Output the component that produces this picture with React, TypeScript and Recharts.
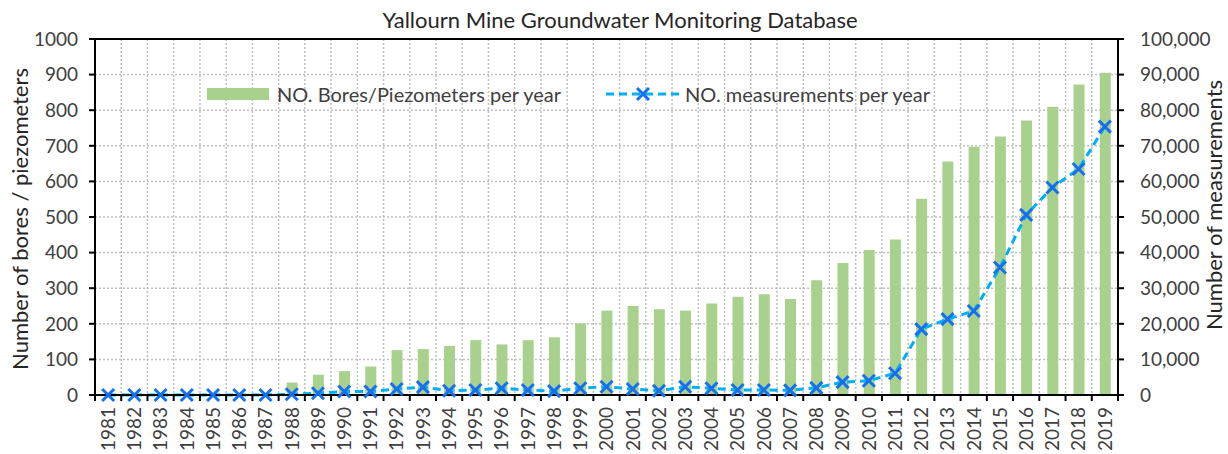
import { Bar, CartesianGrid, ComposedChart, Legend, Line, ReferenceLine, XAxis, YAxis } from "recharts";

const years = [
  "1981", "1982", "1983", "1984", "1985", "1986", "1987", "1988", "1989", "1990",
  "1991", "1992", "1993", "1994", "1995", "1996", "1997", "1998", "1999", "2000",
  "2001", "2002", "2003", "2004", "2005", "2006", "2007", "2008", "2009", "2010",
  "2011", "2012", "2013", "2014", "2015", "2016", "2017", "2018", "2019"
];

const bores = [
  0, 0, 0, 0, 0, 0, 0, 35, 57, 67,
  80, 126, 129, 138, 154, 142, 154, 162, 201, 237,
  250, 241, 237, 257, 276, 283, 270, 322, 371, 407,
  437, 551, 656, 697, 726, 771, 810, 872, 905
];

const measurements = [
  0, 0, 0, 0, 0, 0, 0, 200, 500, 1000,
  1000, 1700, 2200, 1200, 1400, 1900, 1400, 1100, 1900, 2300,
  1700, 1200, 2300, 1900, 1400, 1400, 1300, 2000, 3600, 4000,
  6100, 18500, 21300, 23600, 35800, 50600, 58300, 63500, 75400
];

const leftTicks = [0, 100, 200, 300, 400, 500, 600, 700, 800, 900, 1000];
const rightTicks = [0, 10000, 20000, 30000, 40000, 50000, 60000, 70000, 80000, 90000, 100000];

const data = years.map((year, i) => ({ year, bores: bores[i], measurements: measurements[i] }));

const FONT = "Lato, 'DejaVu Sans', sans-serif";
const TEXT = "#404040";
const BAR = "#a9d18e";
const LINE = "#00b0f0";
const MARK = "#1570f0";
const PLOT_W = 1228 - 95 - 110;

function YearTick(props: any) {
  const { x, y, payload, index } = props;
  const band = PLOT_W / years.length;
  const last = index === years.length - 1;
  return (
    <g>
      <line x1={x - band / 2} x2={x - band / 2} y1={y} y2={y + 6} stroke="#000" strokeWidth={2} />
      {last && <line x1={x + band / 2} x2={x + band / 2} y1={y} y2={y + 6} stroke="#000" strokeWidth={2} />}
      <text
        x={x}
        y={y + 12}
        dy="0.36em"
        textAnchor="end"
        transform={`rotate(-90, ${x}, ${y + 12})`}
        fill={TEXT}
        fontSize={19}
        fontFamily={FONT}
      >
        {payload.value}
      </text>
    </g>
  );
}

function CrossDot(props: any) {
  const { cx, cy } = props;
  if (cx == null || cy == null) return null;
  const r = 6;
  return (
    <g>
      <line x1={cx - r} y1={cy - r} x2={cx + r} y2={cy + r} stroke={MARK} strokeWidth={3} />
      <line x1={cx - r} y1={cy + r} x2={cx + r} y2={cy - r} stroke={MARK} strokeWidth={3} />
    </g>
  );
}

function LegendContent() {
  return (
    <div style={{ display: "flex", alignItems: "center", fontFamily: FONT, fontSize: 20, color: TEXT }}>
      <svg width={62} height={12} style={{ marginRight: 8 }}>
        <rect x={0} y={0} width={62} height={12} fill={BAR} />
      </svg>
      <span>NO. Bores/Piezometers per year</span>
      <svg width={74} height={16} style={{ marginLeft: 45, marginRight: 5 }}>
        <line x1={0} y1={8} x2={74} y2={8} stroke={LINE} strokeWidth={3} strokeDasharray="8 5" />
        <line x1={31} y1={2} x2={43} y2={14} stroke={MARK} strokeWidth={3} />
        <line x1={31} y1={14} x2={43} y2={2} stroke={MARK} strokeWidth={3} />
      </svg>
      <span>NO. measurements per year</span>
    </div>
  );
}

const axisTitle = {
  position: "absolute" as const,
  transform: "translate(-50%, -50%) rotate(-90deg)",
  whiteSpace: "nowrap" as const,
  fontFamily: FONT,
  fontSize: 22,
  lineHeight: "22px",
  color: "#262626"
};

export default function App() {
  return (
    <div style={{ position: "fixed", left: 0, top: 0, width: 1228, height: 454, background: "#fff" }}>
      <div
        style={{
          position: "absolute",
          top: 6,
          left: 0,
          width: 1240,
          textAlign: "center",
          fontFamily: FONT,
          fontSize: 22,
          color: "#262626"
        }}
      >
        Yallourn Mine Groundwater Monitoring Database
      </div>
      <div style={{ ...axisTitle, left: 20, top: 219 }}>Number of bores / piezometers</div>
      <div style={{ ...axisTitle, left: 1214, top: 205 }}>Number of measurements</div>
      <ComposedChart width={1228} height={454} data={data} margin={{ top: 39, right: 0, bottom: 0, left: 0 }}>
        <CartesianGrid
          yAxisId="left"
          stroke="#bfbfbf"
          strokeWidth={1.5}
          strokeDasharray="2 2"
          verticalCoordinatesGenerator={({ offset }: any) =>
            years.slice(1).map((_, i) => offset.left + ((i + 1) * offset.width) / years.length)
          }
        />
        <XAxis
          dataKey="year"
          height={59}
          interval={0}
          axisLine={{ stroke: "#000", strokeWidth: 2 }}
          tickLine={false}
          tickSize={0}
          tickMargin={0}
          tick={<YearTick />}
        />
        <YAxis
          yAxisId="left"
          width={95}
          domain={[0, 1000]}
          ticks={leftTicks}
          interval={0}
          axisLine={{ stroke: "#000", strokeWidth: 2 }}
          tickLine={{ stroke: "#000", strokeWidth: 2 }}
          tickSize={6}
          tickMargin={11}
          tick={{ fill: TEXT, fontSize: 19, fontFamily: FONT }}
        />
        <YAxis
          yAxisId="right"
          orientation="right"
          width={110}
          domain={[0, 100000]}
          ticks={rightTicks}
          interval={0}
          axisLine={{ stroke: "#000", strokeWidth: 2 }}
          tickLine={{ stroke: "#000", strokeWidth: 2 }}
          tickSize={6}
          tickMargin={16}
          tickFormatter={(v: number) => v.toLocaleString("en-US")}
          tick={{ fill: TEXT, fontSize: 19, fontFamily: FONT }}
        />
        <ReferenceLine yAxisId="left" y={1000} stroke="#000" strokeWidth={2} />
        <Legend
          layout="horizontal"
          verticalAlign="middle"
          align="center"
          content={<LegendContent />}
          wrapperStyle={{ top: 82, left: 207, width: 800 }}
        />
        <Bar yAxisId="left" dataKey="bores" fill={BAR} barSize={11} isAnimationActive={false} />
        <Line
          yAxisId="right"
          dataKey="measurements"
          stroke={LINE}
          strokeWidth={3}
          strokeDasharray="8 5"
          dot={<CrossDot />}
          activeDot={false}
          isAnimationActive={false}
        />
      </ComposedChart>
    </div>
  );
}
